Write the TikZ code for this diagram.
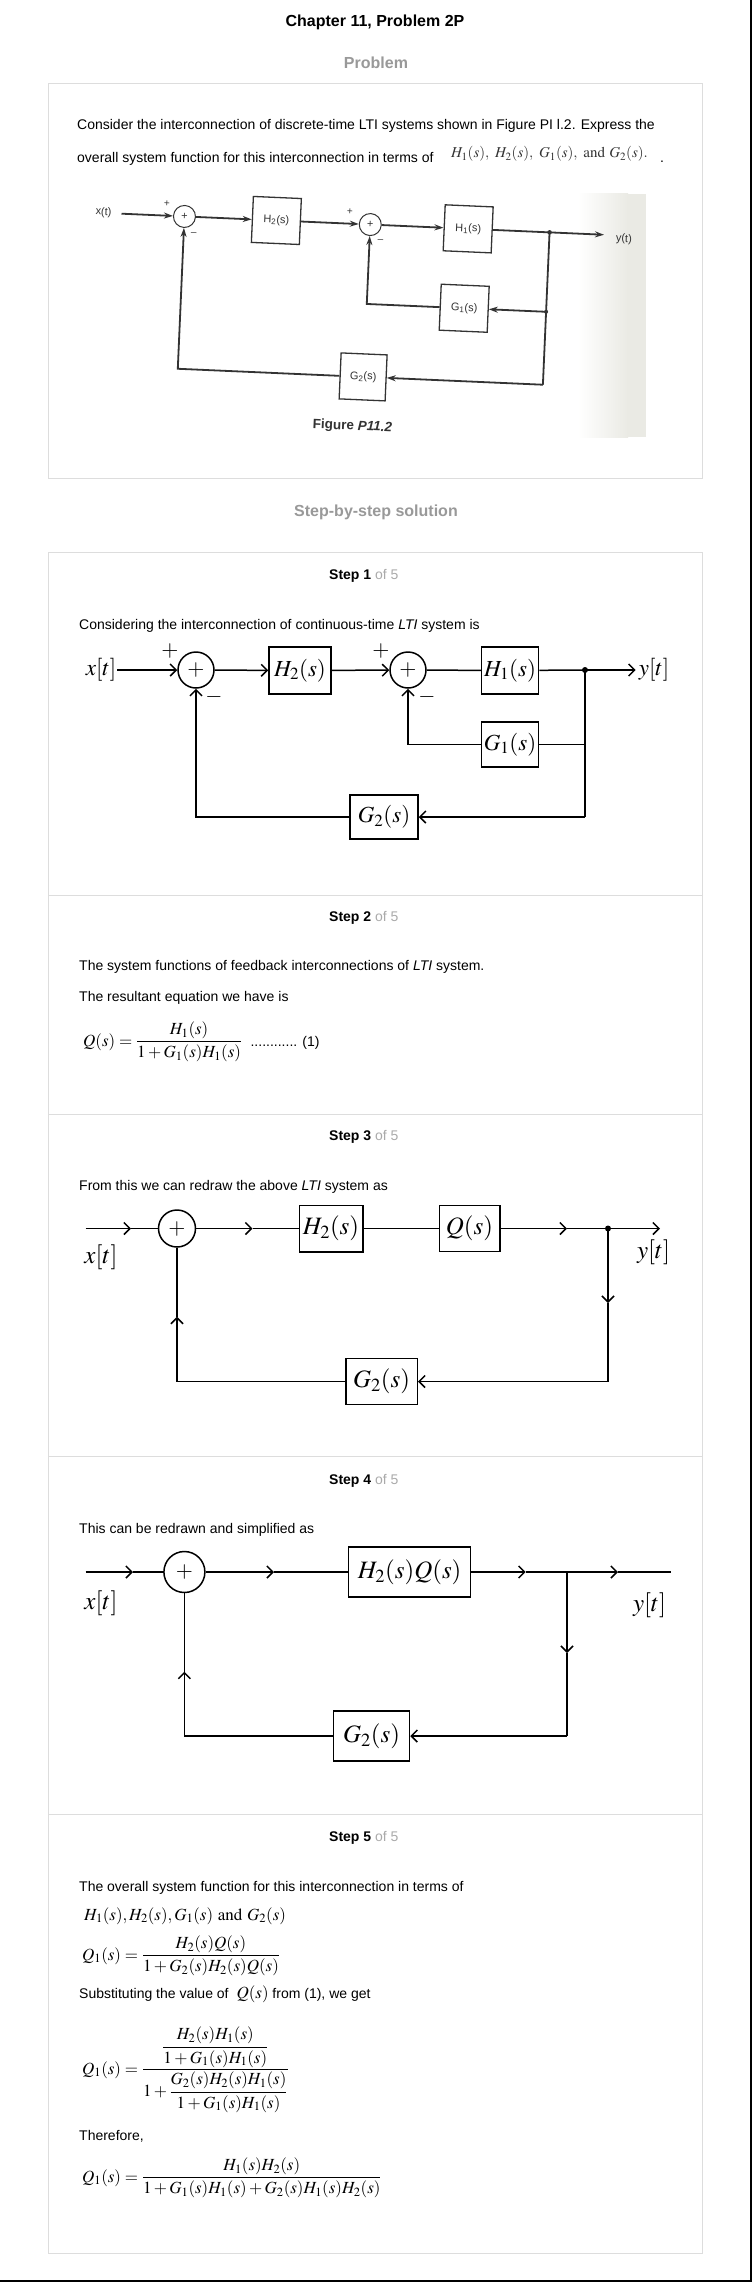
\documentclass[tikz,border=0pt]{standalone}
\usepackage{amsmath}
\usepackage{mathptmx}
\usepackage[no-math]{fontspec}
\setmainfont{Liberation Sans}
\usetikzlibrary{arrows.meta,calc}
\definecolor{bordergray}{HTML}{DDDDDD}
\definecolor{headgray}{HTML}{999999}
\definecolor{ofgray}{HTML}{AAAAAA}
\definecolor{scanink}{HTML}{333333}
\definecolor{scanbg}{RGB}{234,234,228}
\newcommand{\myfs}[1]{\fontsize{#1}{#1}\selectfont}
\tikzset{
  panel/.style={draw=bordergray, line width=1pt},
  body/.style={anchor=base west, inner sep=0pt, font=\myfs{14}},
  head/.style={anchor=base, inner sep=0pt, font=\myfs{16}\bfseries, text=headgray},
  steptitle/.style={anchor=base west, inner sep=0pt, font=\myfs{14}},
  eqn/.style={anchor=base west, inner sep=0pt, font=\myfs{17}},
  blk/.style={draw, line width=1.5pt, inner sep=0pt},
  sumc/.style={circle, draw, line width=1.5pt, inner sep=0pt, font=\myfs{22}},
  lbl/.style={inner sep=1pt},
  sgn/.style={inner sep=0pt, font=\myfs{22}},
  barb/.style={-{Straight Barb[length=6pt,width=12pt]}},
  wire/.style={line width=1.5pt},
  sarr/.style={-{Stealth[length=9pt,width=6pt]}},
  sblk/.style={draw, line width=1.3pt, inner sep=0pt, minimum width=48, minimum height=46, font=\myfs{11}},
}
\begin{document}
\begin{tikzpicture}[x=1pt,y=-1pt]
\useasboundingbox (0,0) rectangle (752,2282);
\fill[white] (0,0) rectangle (752,2282);
\draw[line width=1.5pt] (0,2281.2) -- (751.2,2281.2) -- (751.2,0);

% ---------- headings ----------
\node[anchor=base, inner sep=0pt, font=\myfs{16}\bfseries] (title) at (375,27) {Chapter 11, Problem 2P};
\node[head] (prob) at (376,69) {Problem};
\draw[panel] (48,84) rectangle (702,478);
\node[body] (p1) at (77,130) {Consider the interconnection of discrete-time LTI systems shown in Figure PI l.2. Express the};
\node[body] (p2) at (77,163) {overall system function for this interconnection in terms of};
\node[anchor=base west, inner sep=0pt, font=\myfs{15}, text=scanink] (p2m) at (451,158) {$H_1(s),\ H_2(s),\ G_1(s),\ \mathrm{and}\ G_2(s).$};
\node[body] (p2d) at (660,163) {.};

% ---------- scanned figure ----------
\shade[left color=white, right color=scanbg] (578,194) rectangle (628,437);
\fill[scanbg] (627,194) rectangle (646,437);
\begin{scope}[rotate around={-2.5:(390,300)}, transform shape, draw=scanink, text=scanink, line width=1.8pt]
\node[inner sep=1pt, font=\myfs{11}] (fx) at (100,225) {x(t)};
\coordinate (fin) at (118,225.5);
\node[circle, draw, line width=1pt, minimum size=22, inner sep=0pt, font=\myfs{11}] (fa) at (181,225.5) {+};
\node[inner sep=0pt, font=\myfs{10}] (fap) at (163,213.5) {+};
\node[inner sep=0pt, font=\myfs{10}] (fam) at (191,242.5) {--};
\node[sblk] (fh2) at (273,225.5) {H\textsubscript{2}(s)};
\node[circle, draw, line width=1pt, minimum size=22, inner sep=0pt, font=\myfs{11}] (fb) at (367,225.5) {+};
\node[inner sep=0pt, font=\myfs{10}] (fbp) at (346,213.5) {+};
\node[inner sep=0pt, font=\myfs{10}] (fbm) at (378,242) {--};
\node[sblk] (fh1) at (465,225.5) {H\textsubscript{1}(s)};
\coordinate (fda) at (546.5,225.5);
\coordinate (fout) at (601,225.5);
\node[inner sep=1pt, font=\myfs{11}] (fy) at (621,229) {y(t)};
\node[sblk] (fg1) at (464.5,305) {G\textsubscript{1}(s)};
\coordinate (fdb) at (546.5,305);
\node[sblk, minimum width=46] (fg2) at (366.5,378) {G\textsubscript{2}(s)};
\coordinate (fbr) at (546.5,378);
\draw[sarr] (fin) -- (fa);
\draw[sarr] (fa) -- (fh2);
\draw[sarr] (fh2) -- (fb);
\draw[sarr] (fb) -- (fh1);
\draw (fh1) -- (fda);
\draw[sarr] (fda) -- (fout);
\draw (fda) -- (fbr);
\draw[sarr] (fdb) -- (fg1);
\draw[sarr] (fg1.west) -| (fb.south);
\draw[sarr] (fbr) -- (fg2);
\draw[sarr] (fg2.west) -| (fa.south);
\fill[scanink] (fda) circle (2.3);
\fill[scanink] (fdb) circle (2);
\node[inner sep=0pt, font=\myfs{13.5}\bfseries] (fcap) at (358,428) {Figure \itshape P11.2};
\end{scope}

% ---------- solution ----------
\node[head] (sbs) at (376,516.5) {Step-by-step solution};
\draw[panel] (48,552) rectangle (702,2253);
\foreach \yy in {895,1114,1456,1814} \draw[panel] (48,\yy) -- (702,\yy);

% ---------- step 1 ----------
\node[steptitle] (st1) at (329,579) {\textbf{Step 1} \textcolor{ofgray}{of 5}};
\node[body] (t1) at (79,629) {Considering the interconnection of continuous-time \textit{LTI} system is};
\begin{scope}[font=\myfs{23}]
\node[lbl] (xt1) at (101,670) {$x[t]$};
\node[sumc, minimum size=36] (s11) at (196,670) {$+$};
\node[sgn] (p11) at (170,651) {$+$};
\node[sgn] (m11) at (214,697) {$-$};
\node[blk, minimum width=62, minimum height=47] (h21) at (300,670.5) {$H_2(s)$};
\node[sumc, minimum size=36] (s12) at (408,670) {$+$};
\node[sgn] (p12) at (381,651) {$+$};
\node[sgn] (m12) at (427,697) {$-$};
\node[blk, minimum width=57, minimum height=47] (h11) at (510,670.5) {$H_1(s)$};
\coordinate (d1) at (585,670);
\node[lbl, inner sep=3pt] (yt1) at (654,670) {$y[t]$};
\node[blk, minimum width=57, minimum height=45] (g11) at (510,744.5) {$G_1(s)$};
\node[blk, minimum width=68, minimum height=44] (g21) at (384,817) {$G_2(s)$};
\coordinate (c11) at (585,817);
\end{scope}
\begin{scope}[wire]
\draw[barb] (xt1) -- (s11);
\draw[barb] (s11) -- (h21);
\draw[barb] (h21) -- (s12);
\draw (s12) -- (h11);
\draw (h11) -- (d1);
\draw[barb] (d1) -- (yt1);
\draw (d1) -- (c11);
\draw (g11.east) -- (g11.east -| d1);
\draw[barb] (c11) -- (g21);
\draw[barb] (g11.west) -| (s12.south);
\draw[barb] (g21.west) -| (s11.south);
\fill (d1) circle (3);
\end{scope}

% ---------- step 2 ----------
\node[steptitle] (st2) at (329,921) {\textbf{Step 2} \textcolor{ofgray}{of 5}};
\node[body] (t21) at (79,970) {The system functions of feedback interconnections of \textit{LTI} system.};
\node[body] (t22) at (79,1001) {The resultant equation we have is};
\node[eqn] (e21) at (83,1046) {$Q(s)=\dfrac{H_1(s)}{1+G_1(s)H_1(s)}$};
\node[body] (e21n) at ([xshift=8pt]e21.base east) {............ (1)};

% ---------- step 3 ----------
\node[steptitle] (st3) at (329,1140) {\textbf{Step 3} \textcolor{ofgray}{of 5}};
\node[body] (t3) at (79,1190) {From this we can redraw the above \textit{LTI} system as};
\begin{scope}[font=\myfs{25}]
\coordinate (i3) at (85.5,1228.5);
\coordinate (a31) at (131,1228.5);
\node[sumc, minimum size=37] (s3) at (177,1228.5) {$+$};
\coordinate (a32) at (252.5,1228.5);
\node[blk, minimum width=63.5, minimum height=46.5] (h23) at (331,1228.5) {$H_2(s)$};
\node[blk, minimum width=60.5, minimum height=46] (q3) at (469.5,1228.5) {$Q(s)$};
\coordinate (a33) at (567,1228.5);
\coordinate (d3) at (608,1228.5);
\coordinate (o3) at (660,1228.5);
\node[lbl] (xt3) at (101,1257) {$x[t]$};
\node[lbl] (yt3) at (653.5,1252) {$y[t]$};
\coordinate (a34) at (608,1303);
\coordinate (c31) at (608,1381.5);
\node[blk, minimum width=71.5, minimum height=46] (g23) at (381.5,1381.5) {$G_2(s)$};
\coordinate (c32) at (177,1381.5);
\coordinate (a35) at (177,1316.7);
\end{scope}
\begin{scope}[wire]
\draw[barb] (i3) -- (a31); \draw (a31) -- (s3);
\draw[barb] (s3) -- (a32); \draw (a32) -- (h23);
\draw (h23) -- (q3);
\draw[barb] (q3) -- (a33); \draw (a33) -- (d3);
\draw[barb] (d3) -- (o3);
\draw[barb] (d3) -- (a34); \draw (a34) -- (c31);
\draw[barb] (c31) -- (g23);
\draw (g23) -- (c32);
\draw[barb] (c32) -- (a35); \draw (a35) -- (s3);
\fill (d3) circle (3);
\end{scope}

% ---------- step 4 ----------
\node[steptitle] (st4) at (329,1484) {\textbf{Step 4} \textcolor{ofgray}{of 5}};
\node[body] (t4) at (79,1533) {This can be redrawn and simplified as};
\begin{scope}[font=\myfs{25}]
\coordinate (i4) at (85.5,1572);
\coordinate (a41) at (133,1572);
\node[sumc, minimum size=41] (s4) at (184.4,1572) {$+$};
\coordinate (a42) at (274,1572);
\node[blk, minimum width=122, minimum height=50] (hq4) at (409.7,1572) {$H_2(s)Q(s)$};
\coordinate (a43) at (525.7,1572);
\coordinate (j4) at (567,1572);
\coordinate (a44) at (618,1572);
\coordinate (o4) at (671,1572);
\node[lbl] (xt4) at (101,1603) {$x[t]$};
\node[lbl] (yt4) at (649.5,1605) {$y[t]$};
\coordinate (a45) at (567,1653);
\coordinate (c41) at (567,1736);
\node[blk, minimum width=76, minimum height=50] (g24) at (371.5,1736) {$G_2(s)$};
\coordinate (c42) at (184.4,1736);
\coordinate (a46) at (184.4,1671.7);
\end{scope}
\begin{scope}[wire]
\draw[barb] (i4) -- (a41); \draw (a41) -- (s4);
\draw[barb] (s4) -- (a42); \draw (a42) -- (hq4);
\draw[barb] (hq4) -- (a43); \draw (a43) -- (j4);
\draw[barb] (j4) -- (a44); \draw (a44) -- (o4);
\draw[barb] (j4) -- (a45); \draw (a45) -- (c41);
\draw[barb] (c41) -- (g24);
\draw (g24) -- (c42);
\draw[barb] (c42) -- (a46); \draw (a46) -- (s4);
\end{scope}

% ---------- step 5 ----------
\node[steptitle] (st5) at (329,1841) {\textbf{Step 5} \textcolor{ofgray}{of 5}};
\node[body] (t51) at (79,1891) {The overall system function for this interconnection in terms of};
\node[eqn] (t52) at (84,1920) {$H_1(s),H_2(s),G_1(s)\ \mathrm{and}\ G_2(s)$};
\node[eqn] (e51) at (82,1960) {$Q_1(s)=\dfrac{H_2(s)Q(s)}{1+G_2(s)H_2(s)Q(s)}$};
\node[body] (t53) at (79,1998) {Substituting the value of \hspace{4pt}{\myfs{17}$Q(s)$} from (1), we get};
\node[eqn] (e52) at (82,2074) {$Q_1(s)=\dfrac{\dfrac{H_2(s)H_1(s)}{1+G_1(s)H_1(s)}}{1+\dfrac{G_2(s)H_2(s)H_1(s)}{1+G_1(s)H_1(s)}}$};
\node[body] (t54) at (79,2140) {Therefore,};
\node[eqn] (e53) at (82,2182) {$Q_1(s)=\dfrac{H_1(s)H_2(s)}{1+G_1(s)H_1(s)+G_2(s)H_1(s)H_2(s)}$};
\end{tikzpicture}
\end{document}
